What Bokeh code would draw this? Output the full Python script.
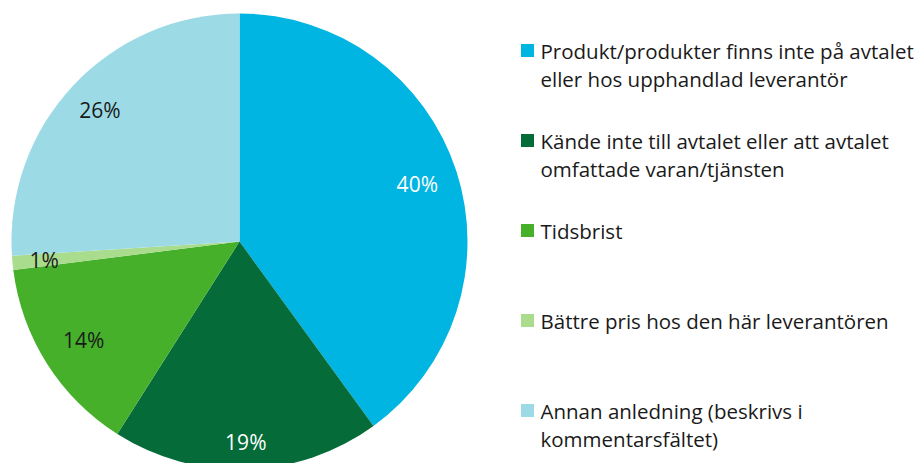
import math
from bokeh.plotting import figure
from bokeh.models import Range1d
from bokeh.core.properties import value
from bokeh.embed import file_html
from bokeh.resources import INLINE

# ---- data ----
categories = [
    "Produkt/produkter finns inte på avtalet\neller hos upphandlad leverantör",
    "Kände inte till avtalet eller att avtalet\nomfattade varan/tjänsten",
    "Tidsbrist",
    "Bättre pris hos den här leverantören",
    "Annan anledning (beskrivs i\nkommentarsfältet)",
]
percent = [40, 19, 14, 1, 26]
colors = ["#00b5e1", "#046b39", "#46b02b", "#aadc8e", "#9cdbe6"]
label_colors = ["white", "white", "#1a1a1a", "#1a1a1a", "#1a1a1a"]
label_rfac = [0.82, 0.88, 0.81, 0.86, 0.84]

# ---- layout (figure px, y measured from top) ----
W, H = 922, 463
cx, cy = 239, 241
R = 228
FONT = "Open Sans"

def Y(y_top):
    return H - y_top

p = figure(width=W, height=H, output_backend="svg", toolbar_location=None,
           x_range=Range1d(0, W), y_range=Range1d(0, H), min_border=0)
p.axis.visible = False
p.grid.visible = False
p.outline_line_color = None
p.background_fill_color = "white"

total = float(sum(percent))
cum = 0.0
starts, ends, mids = [], [], []
for v in percent:
    a0 = cum / total * 2 * math.pi
    cum += v
    a1 = cum / total * 2 * math.pi
    starts.append(math.pi / 2 - a0)
    ends.append(math.pi / 2 - a1)
    mids.append((a0 + a1) / 2)

p.wedge(x=[cx] * len(percent), y=[Y(cy)] * len(percent), radius=R,
        start_angle=starts, end_angle=ends, direction="clock",
        fill_color=colors, line_color=None)

# slice labels
lx, ly, lt = [], [], []
for m, v, f in zip(mids, percent, label_rfac):
    lx.append(cx + f * R * math.sin(m))
    ly.append(Y(cy) + f * R * math.cos(m))
    lt.append(f"{v}%")
p.text(x=lx, y=ly, text=lt, text_color=label_colors, text_align="center",
       text_baseline="middle", text_font=value(FONT), text_font_size="21px")

# legend
sq_x, txt_x = 527, 540
y0, dy, line_h = 50, 90, 28
sx, sy, tx, ty, tt = [], [], [], [], []
for i, (lab, col) in enumerate(zip(categories, colors)):
    yc = y0 + i * dy
    sx.append(sq_x); sy.append(Y(yc))
    for j, line in enumerate(lab.split("\n")):
        tx.append(txt_x); ty.append(Y(yc + j * line_h)); tt.append(line)
p.rect(x=sx, y=sy, width=13, height=13, fill_color=colors, line_color=None)
p.text(x=tx, y=ty, text=tt, text_color="#1a1a1a", text_align="left",
       text_baseline="middle", text_font=value(FONT), text_font_size="20.5px")

open("out.html", "w").write(file_html(p, INLINE))
